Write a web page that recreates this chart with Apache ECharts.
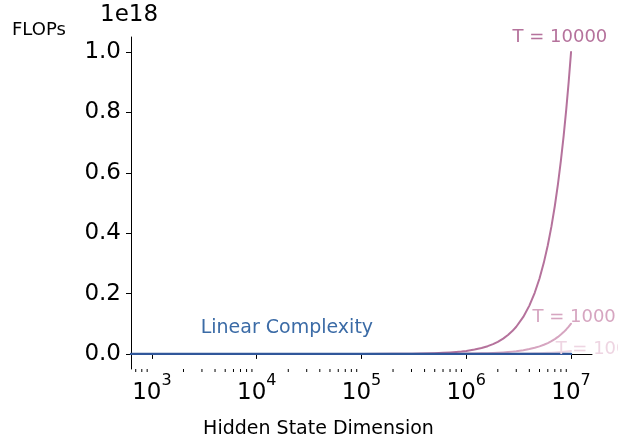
<!DOCTYPE html>
<html><head><meta charset="utf-8">
<script src="https://cdn.jsdelivr.net/npm/echarts@6/dist/echarts.min.js"></script>
<style>html,body{margin:0;padding:0;background:#fff}#c{width:618px;height:442px}</style>
</head><body><div id="c"></div>
<script>
// Hidden state dimension (x) and FLOPs for each setting
const hiddenDim = [631, 1000, 3000, 1e4, 3e4, 1e5, 2e5, 3e5, 4e5, 5e5, 6e5, 7e5, 8e5, 9e5, 1e6, 1.2e6, 1.4e6, 1.6e6, 1.8e6, 2e6, 2.25e6, 2.5e6, 2.75e6, 3e6, 3.5e6, 4e6, 4.5e6, 5e6, 5.5e6, 6e6, 6.5e6, 7e6, 7.5e6, 8e6, 8.5e6, 9e6, 9.5e6, 1e7];
const flopsT10000 = [4e9, 1e10, 9e10, 1e12, 9e12, 1e14, 4e14, 9e14, 1.6e15, 2.5e15, 3.6e15, 4.9e15, 6.4e15, 8.1e15, 1e16, 1.44e16, 1.96e16, 2.56e16, 3.24e16, 4e16, 5.06e16, 6.25e16, 7.56e16, 9e16, 1.225e17, 1.6e17, 2.025e17, 2.5e17, 3.025e17, 3.6e17, 4.225e17, 4.9e17, 5.625e17, 6.4e17, 7.225e17, 8.1e17, 9.025e17, 1e18];
const flopsT1000 = [4e8, 1e9, 9e9, 1e11, 9e11, 1e13, 4e13, 9e13, 1.6e14, 2.5e14, 3.6e14, 4.9e14, 6.4e14, 8.1e14, 1e15, 1.44e15, 1.96e15, 2.56e15, 3.24e15, 4e15, 5.06e15, 6.25e15, 7.56e15, 9e15, 1.225e16, 1.6e16, 2.025e16, 2.5e16, 3.025e16, 3.6e16, 4.225e16, 4.9e16, 5.625e16, 6.4e16, 7.225e16, 8.1e16, 9.025e16, 1e17];
const flopsT100 = [4e7, 1e8, 9e8, 1e10, 9e10, 1e12, 4e12, 9e12, 1.6e13, 2.5e13, 3.6e13, 4.9e13, 6.4e13, 8.1e13, 1e14, 1.44e14, 1.96e14, 2.56e14, 3.24e14, 4e14, 5.06e14, 6.25e14, 7.56e14, 9e14, 1.225e15, 1.6e15, 2.025e15, 2.5e15, 3.025e15, 3.6e15, 4.225e15, 4.9e15, 5.625e15, 6.4e15, 7.225e15, 8.1e15, 9.025e15, 1e16];
const flopsLinear = [6.3e6, 1e7, 3e7, 1e8, 3e8, 1e9, 2e9, 3e9, 4e9, 5e9, 6e9, 7e9, 8e9, 9e9, 1e10, 1.2e10, 1.4e10, 1.6e10, 1.8e10, 2e10, 2.25e10, 2.5e10, 2.75e10, 3e10, 3.5e10, 4e10, 4.5e10, 5e10, 5.5e10, 6e10, 6.5e10, 7e10, 7.5e10, 8e10, 8.5e10, 9e10, 9.5e10, 1e11];

// Ticks
const xMajorTicks = [1e3, 1e4, 1e5, 1e6, 1e7];
const xMinorTicks = [700, 800, 900,
  2e3, 3e3, 4e3, 5e3, 6e3, 7e3, 8e3, 9e3,
  2e4, 3e4, 4e4, 5e4, 6e4, 7e4, 8e4, 9e4,
  2e5, 3e5, 4e5, 5e5, 6e5, 7e5, 8e5, 9e5,
  2e6, 3e6, 4e6, 5e6, 6e6, 7e6, 8e6, 9e6];
const yTicks = [0, 2e17, 4e17, 6e17, 8e17, 1e18];
const xMin = 630.957, xMax = 15848932;
const yMin = -5e16, yMax = 1.05e18;

// Annotation labels: [x, y, text]
const labelT10000 = [7.83e6, 1.0499e18, 'T = 10000'];
const labelT1000 = [1.07e7, 1.21e17, 'T = 1000'];
const labelT100 = [1.57e7, 1.5e16, 'T = 100'];
const labelLinear = [1.94e4, 8.4e16, 'Linear Complexity'];

const FONT = 'DejaVu Sans';
const cT10000 = '#b5729c', cT1000 = '#d6a5c0', cT100 = '#eed5e2', cLinear = '#30579a', cLinearText = '#3b6ba6';

function zip(xs, ys) { return xs.map((x, i) => [x, ys[i]]); }
function mp(lbl, color, size) {
  return {
    silent: true, symbol: 'circle', symbolSize: 1, itemStyle: {color: 'rgba(0,0,0,0)'},
    label: {show: true, position: 'inside', formatter: '{b}', color: color, fontSize: size, fontFamily: FONT},
    data: [{name: lbl[2], coord: [lbl[0], lbl[1]]}]
  };
}
function lineSeries(name, ys, color, width, lbl, lblColor, size) {
  return {
    name: name, type: 'line', data: zip(hiddenDim, ys), showSymbol: false, smooth: false,
    lineStyle: {color: color, width: width, join: 'round', cap: 'round'}, itemStyle: {color: color}, silent: true,
    markPoint: mp(lbl, lblColor, size)
  };
}

const chart = echarts.init(document.getElementById('c'), null, {renderer: 'canvas'});
chart.setOption({
  animation: false,
  backgroundColor: '#fff',
  grid: {left: 131, right: 26, top: 37, bottom: 73, containLabel: false},
  xAxis: {
    type: 'log', logBase: 10, min: xMin, max: xMax,
    axisLine: {show: true, lineStyle: {color: '#000', width: 1}},
    axisTick: {show: true, customValues: xMajorTicks, length: 5, lineStyle: {color: '#000', width: 1}},
    axisLabel: {
      show: true, customValues: xMajorTicks, margin: 4,
      formatter: function (v) { return '{b|10}{s|' + Math.round(Math.log10(v)) + '}'; },
      rich: {
        b: {fontSize: 23, fontFamily: FONT, color: '#000', verticalAlign: 'bottom'},
        s: {fontSize: 16, fontFamily: FONT, color: '#000', verticalAlign: 'bottom', padding: [0, 0, 16, 0]}
      }
    },
    splitLine: {show: false}, minorTick: {show: false}
  },
  yAxis: {
    type: 'value', min: yMin, max: yMax,
    axisLine: {show: true, lineStyle: {color: '#000', width: 1}},
    axisTick: {show: true, customValues: yTicks, length: 5, lineStyle: {color: '#000', width: 1}},
    axisLabel: {
      show: true, customValues: yTicks, margin: 10, fontSize: 23, fontFamily: FONT, color: '#000',
      formatter: function (v) { return (v / 1e18).toFixed(1); }
    },
    splitLine: {show: false}
  },
  graphic: [
    {type: 'text', x: 12, y: 30, style: {text: 'FLOPs', fontSize: 18, fontFamily: FONT, fill: '#000', verticalAlign: 'middle', align: 'left'}},
    {type: 'text', x: 100, y: 15, style: {text: '1e18', fontSize: 23, fontFamily: FONT, fill: '#000', verticalAlign: 'middle', align: 'left'}},
    {type: 'text', x: 318.5, y: 429, style: {text: 'Hidden State Dimension', fontSize: 19, fontFamily: FONT, fill: '#000', verticalAlign: 'middle', align: 'center'}}
  ],
  series: [
    {
      type: 'custom', silent: true, clip: false,
      data: xMinorTicks.map(v => [v, yMin]),
      renderItem: function (params, api) {
        const p = api.coord([api.value(0), api.value(1)]);
        return {type: 'line', shape: {x1: p[0], y1: p[1], x2: p[0], y2: p[1] + 3}, style: {stroke: '#000', lineWidth: 1}};
      }
    },
    lineSeries('T100', flopsT100, cT100, 2, labelT100, cT100, 18),
    lineSeries('T1000', flopsT1000, cT1000, 2, labelT1000, cT1000, 18),
    lineSeries('T10000', flopsT10000, cT10000, 2, labelT10000, cT10000, 18),
    lineSeries('Linear', flopsLinear, cLinear, 2.4, labelLinear, cLinearText, 19)
  ]
});
</script></body></html>
